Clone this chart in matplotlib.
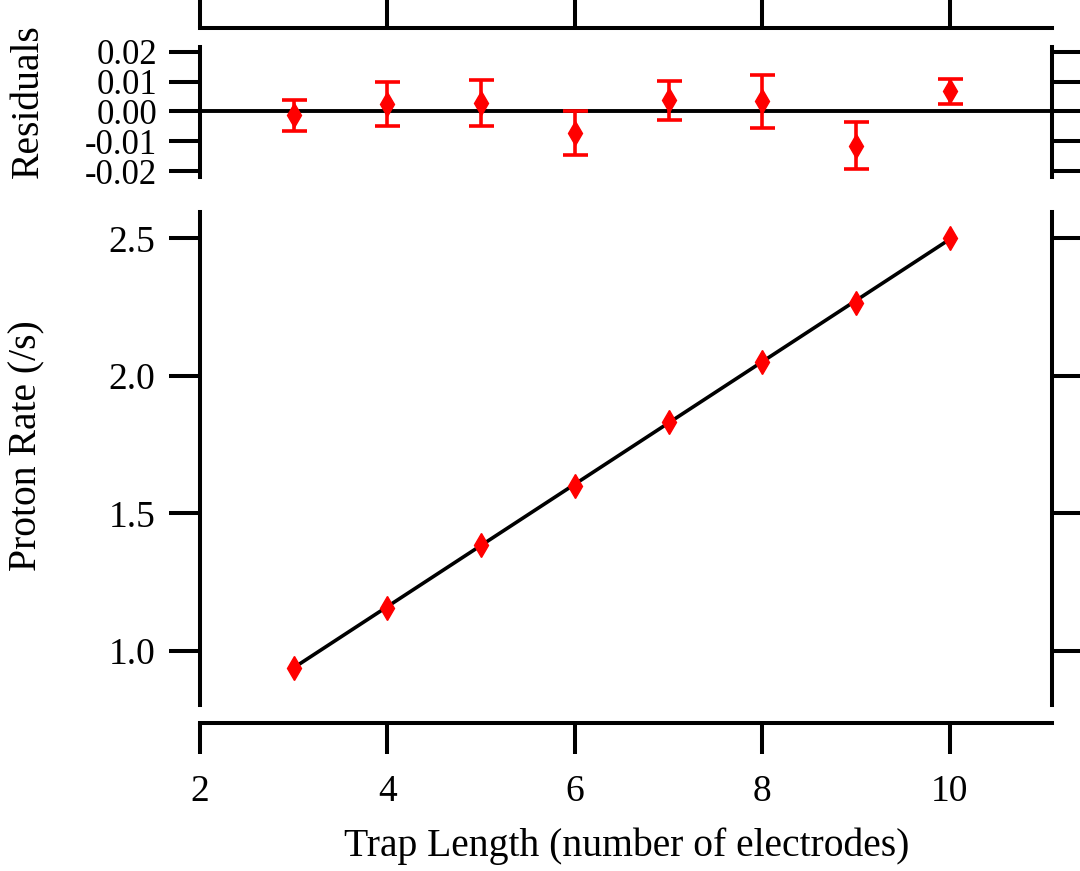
import matplotlib
matplotlib.use("Agg")
import matplotlib.pyplot as plt

plt.rcParams["font.family"] = ["Liberation Serif", "DejaVu Serif"]

# data
trap_len = [3, 4, 5, 6, 7, 8, 9, 10]
rate     = [0.938, 1.157, 1.383, 1.599, 1.832, 2.051, 2.266, 2.500]
resid    = [-0.0013, 0.0024, 0.0028, -0.0072, 0.0037, 0.0034, -0.0115, 0.0067]
resid_err = [0.0052, 0.0074, 0.0077, 0.0075, 0.0066, 0.0089, 0.0079, 0.0043]
fit_x = [3, 10]
fit_y = [0.938, 2.497]

x_ticks = [2, 4, 6, 8, 10]
rate_ticks = [1.0, 1.5, 2.0, 2.5]
resid_ticks = [-0.02, -0.01, 0.0, 0.01, 0.02]

red = "#ff0000"
lw = 2.9
fs = 27
fs_lab = 28.5

fig = plt.figure(figsize=(10.8, 8.71), dpi=100)
W, H = 1080, 871

def px_axes(x0, y0, x1, y1):
    return fig.add_axes([x0 / W, 1 - y1 / H, (x1 - x0) / W, (y1 - y0) / H])

ax_r = px_axes(200, 47, 1052, 177)
ax = px_axes(200, 212, 1052, 705)

for a in (ax, ax_r):
    a.set_xlim(2, 11.09)
    a.patch.set_visible(False)
    for s in a.spines.values():
        s.set_linewidth(lw)

# residual panel
ax_r.errorbar(trap_len, resid, yerr=resid_err, fmt="d", color=red, ms=12,
              ecolor=red, elinewidth=2.6, capsize=9, capthick=2.6, zorder=3)
ax_r.axhline(0, color="black", lw=2.8, zorder=2)
ax_r.set_ylim(-0.022, 0.0216)
ax_r.set_yticks(resid_ticks)
ax_r.set_yticklabels([f"{v:.2f}" for v in resid_ticks])
ax_r.spines["bottom"].set_visible(False)
ax_r.spines["top"].set_position(("outward", 14))
ax_r.set_xticks(x_ticks)
ax_r.tick_params(axis="x", bottom=False, labelbottom=False, top=True,
                 labeltop=False, direction="out", length=24, width=lw)
ax_r.tick_params(axis="y", left=True, right=True, direction="out", length=22,
                 width=lw, labelsize=25, pad=9)

# main panel
ax.plot(fit_x, fit_y, color="black", lw=2.6, zorder=2)
ax.plot(trap_len, rate, "d", color=red, ms=12, zorder=3)
ax.set_ylim(0.8025, 2.596)
ax.set_yticks(rate_ticks)
ax.set_yticklabels([f"{v:.1f}" for v in rate_ticks])
ax.spines["top"].set_visible(False)
ax.spines["bottom"].set_position(("outward", 13))
ax.set_xticks(x_ticks)
ax.tick_params(axis="x", direction="out", length=22, width=lw,
               labelsize=fs, pad=15)
ax.tick_params(axis="y", left=True, right=True, direction="out", length=22,
               width=lw, labelsize=fs, pad=10)

fig.text(27 / W, 1 - 446 / H, "Proton Rate (/s)", rotation=90,
         ha="center", va="center", fontsize=fs_lab)
fig.text(28 / W, 1 - 101 / H, "Residuals", rotation=90,
         ha="center", va="center", fontsize=fs_lab)
fig.text(627 / W, 1 - 846 / H, "Trap Length (number of electrodes)",
         ha="center", va="center", fontsize=fs_lab)

fig.savefig("out.png", dpi=100)
